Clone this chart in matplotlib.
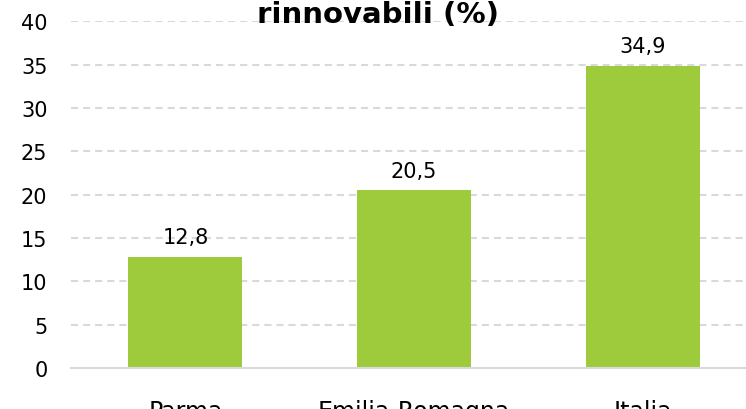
import matplotlib
matplotlib.use("Agg")
import matplotlib.pyplot as plt

categories = ["Parma", "Emilia-Romagna", "Italia"]
values = [12.8, 20.5, 34.9]
value_labels = ["12,8", "20,5", "34,9"]
yticks = [0, 5, 10, 15, 20, 25, 30, 35, 40]
title = "rinnovabili (%)"

plt.rcParams['font.family'] = ['DejaVu Sans']

W, H = 746, 410
fig = plt.figure(figsize=(W / 100, H / 100), dpi=100)
left_px, right_px = 71, 757
bottom_px, top_px = 369, 22.3
ax = fig.add_axes([left_px / W, (H - bottom_px) / H,
                   (right_px - left_px) / W, (bottom_px - top_px) / H])

x = range(len(categories))
ax.bar(x, values, width=0.5, color="#9ECB3C", zorder=3)
ax.set_xlim(-0.5, 2.5)
ax.set_ylim(0, 40)
ax.set_yticks(yticks)
ax.set_yticklabels([str(t) for t in yticks], fontsize=15)
ax.set_xticks(list(x))
ax.set_xticklabels(categories, fontsize=17)
ax.tick_params(axis="y", length=0, pad=17)
ax.tick_params(axis="x", length=0, pad=22.5)

for t in yticks[1:]:
    ax.axhline(t, color="#d9d9d9", lw=1.5, dashes=(3.4, 2.4), zorder=1)

for s in ["top", "right", "left"]:
    ax.spines[s].set_visible(False)
ax.spines["bottom"].set_color("#d9d9d9")
ax.spines["bottom"].set_linewidth(1.5)
ax.spines["bottom"].set_zorder(4)

for xi, v, lab in zip(x, values, value_labels):
    ax.annotate(lab, (xi, v), xytext=(0, 7), textcoords="offset points",
                ha="center", va="bottom", fontsize=15, color="#000000")

fig.text(257 / W, (H - 23) / H, title, ha="left", va="baseline",
         fontsize=21, fontweight="bold")

fig.savefig("out.png", dpi=100)
